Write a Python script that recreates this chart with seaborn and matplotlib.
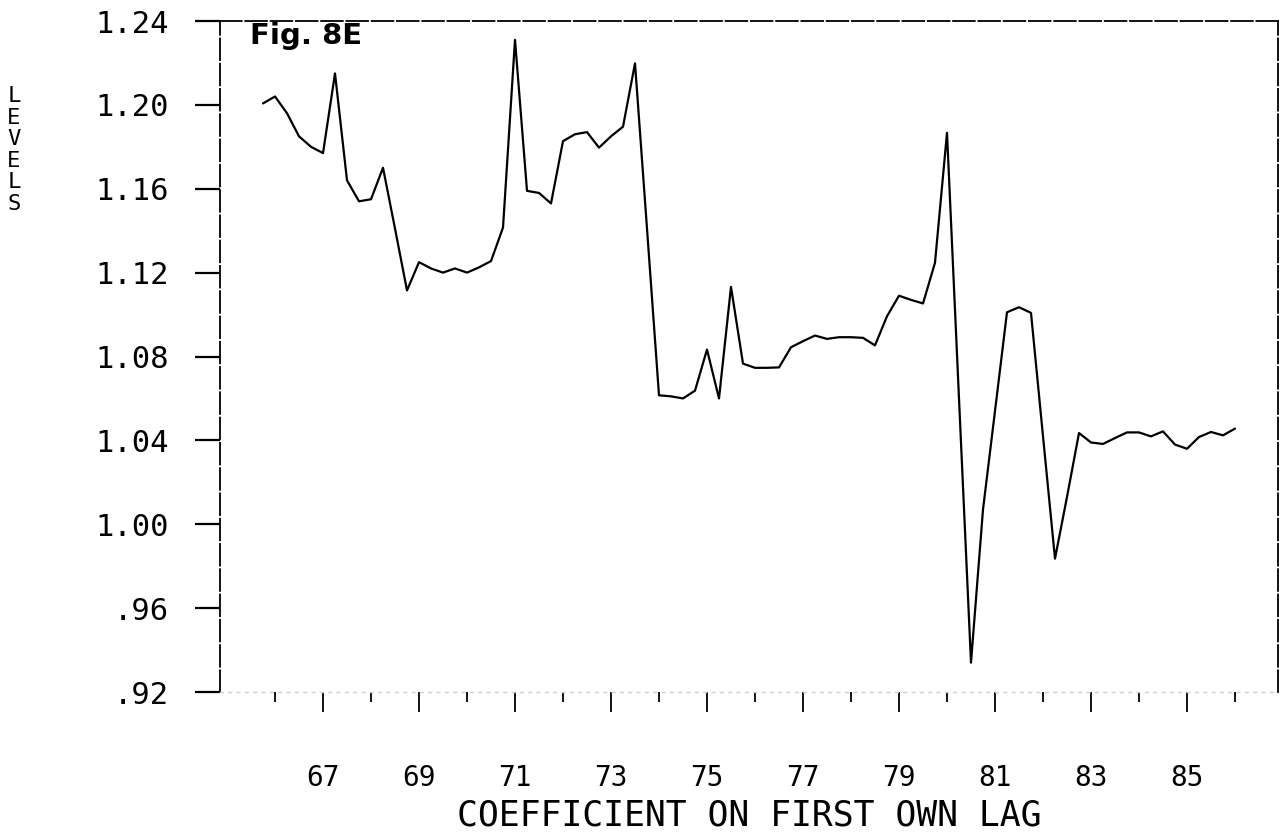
import numpy as np
import pandas as pd
import matplotlib
matplotlib.use("Agg")
import matplotlib.pyplot as plt
import seaborn as sns
from matplotlib.ticker import FixedLocator

# ---- data (quarterly) ----
start_year = 65.75
levels = [1.2007, 1.204, 1.196, 1.185, 1.180, 1.177, 1.215, 1.164, 1.154, 1.155,
          1.170, 1.141, 1.1115, 1.125, 1.122, 1.120, 1.122, 1.120, 1.1225, 1.1255,
          1.1415, 1.231, 1.159, 1.158, 1.153, 1.1827, 1.186, 1.187, 1.1796, 1.185,
          1.1896, 1.2198, 1.141, 1.0615, 1.061, 1.060, 1.0637, 1.0833, 1.060, 1.1132,
          1.0766, 1.0746, 1.0746, 1.0748, 1.0844, 1.0873, 1.090, 1.0884, 1.0892, 1.0892,
          1.0889, 1.0853, 1.0992, 1.109, 1.107, 1.1053, 1.1247, 1.1867, 1.060, 0.934,
          1.007, 1.054, 1.1011, 1.1035, 1.1008, 1.042, 0.9836, 1.013, 1.0435, 1.039,
          1.0383, 1.0411, 1.0438, 1.0438, 1.0419, 1.0443, 1.038, 1.036, 1.0416, 1.044,
          1.0424, 1.0456]
major_years = [67, 69, 71, 73, 75, 77, 79, 81, 83, 85]
minor_years = [66, 68, 70, 72, 74, 76, 78, 80, 82, 84, 86]
y_ticks = [0.92, 0.96, 1.00, 1.04, 1.08, 1.12, 1.16, 1.20, 1.24]
y_tick_labels = [".92", ".96", "1.00", "1.04", "1.08", "1.12", "1.16", "1.20", "1.24"]
x_label = "COEFFICIENT ON FIRST OWN LAG"
y_label = "LEVELS"
fig_note = "Fig. 8E"

dates = start_year + 0.25 * np.arange(len(levels))
df = pd.DataFrame({"date": dates, "level": levels})

sns.set_style("white")
plt.rcParams["font.family"] = ["DejaVu Sans Mono", "DejaVu Sans"]
plt.rcParams["text.color"] = "black"
plt.rcParams["xtick.color"] = "black"
plt.rcParams["ytick.color"] = "black"
plt.rcParams["axes.labelcolor"] = "black"

fig = plt.figure(figsize=(12.84, 8.38), dpi=100)
ax = fig.add_axes([220 / 1284, 1 - 692 / 838, (1278 - 220) / 1284, (692 - 21) / 838])

sns.lineplot(data=df, x="date", y="level", ax=ax, color="black", linewidth=1.6)

ax.set_xlim(64.854, 86.896)
ax.set_ylim(0.92, 1.24)

# spines
for side in ["left", "top", "right"]:
    ax.spines[side].set_visible(True)
    ax.spines[side].set_color("black")
    ax.spines[side].set_linewidth(1.3)
    ax.spines[side].set_linestyle((0, (12, 2)))
ax.spines["bottom"].set_color("#cfcfcf")
ax.spines["bottom"].set_linewidth(1.0)
ax.spines["bottom"].set_linestyle((0, (2, 4)))

# ticks
ax.xaxis.set_major_locator(FixedLocator(major_years))
ax.xaxis.set_minor_locator(FixedLocator(minor_years))
ax.set_xticklabels([str(y) for y in major_years])
ax.set_yticks(y_ticks)
ax.set_yticklabels(y_tick_labels)

ax.tick_params(axis="x", which="major", direction="out", length=14.5, width=1.3,
               color="black", labelcolor="black", pad=37, labelsize=20, bottom=True)
ax.tick_params(axis="x", which="minor", direction="out", length=7, width=1.3,
               color="black", bottom=True)
ax.tick_params(axis="y", which="major", direction="out", length=18, width=1.6,
               color="black", labelcolor="black", pad=19, labelsize=22, left=True)

ax.set_xlabel(x_label, fontsize=25, labelpad=5, color="black")
ax.set_ylabel("")

# vertical stacked y label
fig.text(14 / 1284, 1 - 150 / 838, "\n".join(y_label), fontsize=16,
         ha="center", va="center", linespacing=1.1, color="black")

# handwritten note
fig.text(250 / 1284, 1 - 36 / 838, fig_note, fontsize=21, fontweight="bold",
         family=["DejaVu Sans"], ha="left", va="center", color="black")

ax.grid(False)
fig.savefig("out.png", dpi=100)
